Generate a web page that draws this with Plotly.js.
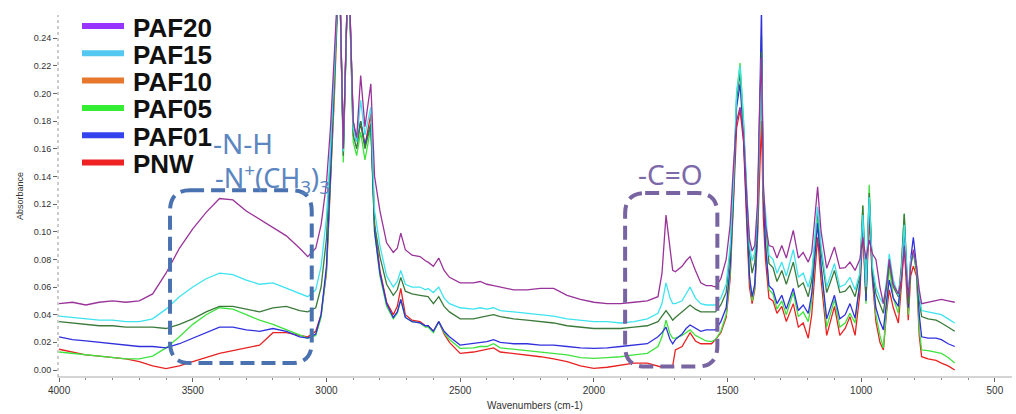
<!DOCTYPE html>
<html>
<head>
<meta charset="utf-8">
<script src="https://cdn.plot.ly/plotly-3.0.1.min.js"></script>
<style>html,body{margin:0;padding:0;background:#fff;}#chart{width:1016px;height:414px;}</style>
</head>
<body>
<div id="chart"></div>
<script>
// Wavenumbers (cm-1)
const wavenumbers = [4000,3950,3900,3850,3800,3750,3700,3650,3600,3550,3500,3450,3400,3350,3300,3250,3200,3150,3100,3070,3040,3020,3000,2985,2970,2952,2937,2918,2900,2887,2872,2856,2834,2820,2800,2775,2750,2735,2722,2705,2680,2650,2630,2620,2600,2580,2560,2540,2500,2450,2425,2400,2375,2350,2300,2250,2200,2150,2100,2050,2000,1950,1900,1850,1800,1760,1745,1730,1715,1705,1695,1670,1655,1640,1620,1600,1580,1560,1545,1525,1505,1490,1478,1466,1453,1440,1428,1418,1408,1398,1388,1380,1373,1366,1358,1345,1330,1315,1297,1280,1254,1235,1217,1198,1185,1163,1150,1129,1100,1080,1060,1042,1023,1005,994,982,970,958,945,930,917,905,895,880,861,850,839,824,815,805,793,783,774,750,720,700,675,650];

const paf20 = [0.048,0.049,0.047,0.049,0.050,0.049,0.050,0.055,0.070,0.088,0.102,0.114,0.124,0.123,0.115,0.109,0.103,0.097,0.088,0.082,0.088,0.105,0.135,0.175,0.230,0.300,0.160,0.300,0.180,0.168,0.213,0.176,0.207,0.140,0.115,0.092,0.085,0.088,0.099,0.087,0.083,0.082,0.079,0.078,0.075,0.081,0.072,0.067,0.063,0.063,0.064,0.062,0.061,0.060,0.058,0.058,0.059,0.059,0.054,0.051,0.049,0.048,0.048,0.049,0.050,0.053,0.070,0.112,0.085,0.072,0.071,0.075,0.079,0.082,0.072,0.063,0.061,0.061,0.060,0.066,0.080,0.105,0.147,0.180,0.190,0.170,0.125,0.095,0.086,0.090,0.120,0.190,0.226,0.135,0.105,0.090,0.089,0.081,0.090,0.081,0.101,0.081,0.085,0.078,0.085,0.1325,0.100,0.0735,0.089,0.0735,0.074,0.078,0.072,0.080,0.096,0.080,0.094,0.084,0.080,0.060,0.048,0.062,0.080,0.062,0.055,0.065,0.089,0.053,0.075,0.087,0.075,0.058,0.048,0.049,0.050,0.051,0.050,0.049];
const paf15 = [0.039,0.038,0.037,0.036,0.036,0.035,0.035,0.037,0.044,0.053,0.060,0.066,0.070,0.069,0.065,0.062,0.063,0.059,0.055,0.053,0.058,0.075,0.110,0.160,0.220,0.300,0.158,0.300,0.175,0.165,0.195,0.170,0.190,0.115,0.090,0.068,0.060,0.064,0.072,0.062,0.060,0.060,0.058,0.059,0.056,0.060,0.052,0.048,0.045,0.044,0.045,0.044,0.045,0.043,0.042,0.041,0.040,0.039,0.037,0.036,0.035,0.035,0.034,0.035,0.037,0.041,0.048,0.063,0.052,0.048,0.048,0.050,0.055,0.060,0.052,0.048,0.047,0.047,0.047,0.052,0.062,0.090,0.135,0.200,0.220,0.180,0.125,0.090,0.079,0.085,0.115,0.185,0.225,0.130,0.115,0.083,0.080,0.070,0.078,0.068,0.087,0.067,0.070,0.060,0.070,0.118,0.090,0.060,0.077,0.060,0.062,0.067,0.058,0.070,0.112,0.060,0.125,0.075,0.060,0.052,0.048,0.065,0.084,0.065,0.054,0.070,0.105,0.055,0.080,0.085,0.075,0.055,0.043,0.042,0.041,0.040,0.037,0.034];
const paf10 = [0.035,0.034,0.033,0.032,0.032,0.031,0.031,0.031,0.030,0.033,0.037,0.042,0.046,0.046,0.044,0.042,0.045,0.046,0.043,0.042,0.045,0.060,0.095,0.150,0.215,0.300,0.155,0.300,0.170,0.160,0.180,0.160,0.178,0.105,0.082,0.062,0.054,0.058,0.067,0.057,0.055,0.054,0.053,0.053,0.048,0.053,0.046,0.042,0.037,0.037,0.038,0.039,0.040,0.0386,0.037,0.036,0.035,0.034,0.032,0.031,0.030,0.030,0.030,0.031,0.032,0.035,0.039,0.043,0.039,0.036,0.038,0.042,0.045,0.047,0.044,0.042,0.042,0.042,0.042,0.047,0.056,0.085,0.130,0.195,0.215,0.175,0.120,0.085,0.070,0.078,0.110,0.185,0.230,0.128,0.110,0.077,0.074,0.064,0.072,0.062,0.078,0.060,0.063,0.053,0.065,0.116,0.085,0.056,0.072,0.056,0.057,0.061,0.053,0.068,0.119,0.055,0.128,0.072,0.055,0.048,0.041,0.060,0.078,0.060,0.053,0.075,0.113,0.048,0.078,0.085,0.072,0.050,0.0386,0.037,0.036,0.034,0.031,0.028];
const paf05 = [0.013,0.012,0.011,0.010,0.009,0.008,0.008,0.010,0.016,0.024,0.033,0.040,0.045,0.044,0.040,0.036,0.033,0.029,0.025,0.023,0.025,0.038,0.072,0.135,0.205,0.300,0.150,0.300,0.165,0.155,0.172,0.152,0.175,0.100,0.068,0.046,0.037,0.041,0.051,0.038,0.035,0.034,0.031,0.031,0.027,0.035,0.027,0.022,0.0157,0.016,0.017,0.017,0.019,0.016,0.015,0.014,0.013,0.012,0.011,0.009,0.0084,0.009,0.0096,0.011,0.012,0.017,0.024,0.036,0.026,0.023,0.023,0.025,0.027,0.029,0.025,0.023,0.021,0.0205,0.022,0.028,0.040,0.070,0.125,0.200,0.222,0.180,0.115,0.068,0.050,0.060,0.100,0.190,0.242,0.125,0.095,0.058,0.055,0.044,0.050,0.040,0.056,0.0386,0.042,0.035,0.050,0.112,0.075,0.031,0.051,0.031,0.034,0.041,0.034,0.065,0.119,0.048,0.134,0.070,0.040,0.025,0.016,0.045,0.075,0.052,0.041,0.070,0.113,0.040,0.075,0.085,0.070,0.030,0.0145,0.014,0.013,0.012,0.009,0.005];
const paf01 = [0.024,0.022,0.021,0.020,0.019,0.018,0.017,0.017,0.016,0.019,0.023,0.027,0.031,0.031,0.029,0.028,0.030,0.028,0.024,0.023,0.026,0.040,0.075,0.140,0.210,0.300,0.160,0.300,0.180,0.165,0.180,0.163,0.178,0.100,0.070,0.048,0.038,0.042,0.051,0.038,0.035,0.034,0.032,0.032,0.028,0.035,0.028,0.024,0.018,0.019,0.020,0.0205,0.022,0.020,0.019,0.019,0.018,0.018,0.017,0.016,0.0157,0.016,0.017,0.018,0.019,0.024,0.027,0.031,0.022,0.019,0.022,0.026,0.030,0.0325,0.030,0.028,0.029,0.029,0.029,0.035,0.045,0.075,0.125,0.190,0.207,0.168,0.110,0.068,0.053,0.062,0.100,0.190,0.262,0.125,0.090,0.061,0.058,0.048,0.054,0.044,0.059,0.043,0.047,0.041,0.055,0.106,0.075,0.037,0.054,0.037,0.040,0.048,0.0375,0.062,0.111,0.050,0.123,0.068,0.045,0.035,0.029,0.050,0.065,0.052,0.046,0.070,0.104,0.045,0.080,0.096,0.075,0.040,0.024,0.023,0.023,0.022,0.019,0.017];
const pnw = [0.015,0.013,0.011,0.010,0.009,0.008,0.006,0.003,0.001,0.003,0.006,0.009,0.012,0.014,0.016,0.018,0.027,0.027,0.025,0.024,0.028,0.040,0.070,0.130,0.200,0.300,0.158,0.300,0.178,0.165,0.178,0.162,0.185,0.105,0.072,0.049,0.040,0.046,0.059,0.040,0.036,0.035,0.032,0.032,0.028,0.035,0.026,0.020,0.012,0.013,0.014,0.0145,0.016,0.013,0.012,0.011,0.0096,0.008,0.006,0.003,0.0012,0.002,0.0036,0.005,0.005,0.003,0.002,0.002,0.002,0.003,0.0145,0.017,0.022,0.027,0.021,0.019,0.019,0.019,0.022,0.027,0.038,0.066,0.120,0.175,0.188,0.165,0.105,0.060,0.048,0.058,0.095,0.150,0.180,0.110,0.080,0.052,0.050,0.041,0.046,0.035,0.048,0.031,0.034,0.023,0.040,0.096,0.065,0.025,0.046,0.025,0.030,0.0386,0.025,0.055,0.100,0.050,0.110,0.065,0.035,0.020,0.0145,0.042,0.058,0.045,0.034,0.060,0.090,0.036,0.068,0.075,0.068,0.025,0.0096,0.008,0.007,0.005,0.003,0.000];

const seriesNames = ['PAF20','PAF15','PAF10','PAF05','PAF01','PNW'];
const legendColors = ['#9933ff','#55c8f2','#e8772e','#33ee33','#3344ee','#ee2222'];
const curveColors  = ['#993399','#3fe3ef','#3b7a3b','#3fe33f','#3030dd','#e82222'];
const seriesValues = [paf20, paf15, paf10, paf05, paf01, pnw];

const xTickLabels = [4000,3500,3000,2500,2000,1500,1000,500];

const traces = [];
[5,3,4,2,1,0].forEach(i => {
  traces.push({
    x: wavenumbers, y: seriesValues[i], type: 'scatter', mode: 'lines', name: seriesNames[i],
    line: {color: curveColors[i], width: 1.3}, showlegend: false, hoverinfo: 'skip'
  });
});

function roundedBox(L, R, T, B, rx, ry) {
  const s = Math.sign(L - R);
  const p = (x, y) => x + ',' + y;
  return 'M' + p(L - s*rx, T) + ' L' + p(R + s*rx, T) + ' Q' + p(R, T) + ' ' + p(R, T - ry) +
         ' L' + p(R, B + ry) + ' Q' + p(R, B) + ' ' + p(R + s*rx, B) +
         ' L' + p(L - s*rx, B) + ' Q' + p(L, B) + ' ' + p(L, B + ry) +
         ' L' + p(L, T - ry) + ' Q' + p(L, T) + ' ' + p(L - s*rx, T) + ' Z';
}

const M = {l: 58, r: 4, t: 15, b: 37};
const W = 1016, H = 414;
const pw = W - M.l - M.r, ph = H - M.t - M.b;
const px2x = px => (px - M.l) / pw;
const py2y = py => (H - M.b - py) / ph;

const shapes = [
  {type: 'line', xref: 'paper', yref: 'paper', x0: 0, x1: 1, y0: 0, y1: 0, line: {color: '#aaa', width: 1}},
  {type: 'line', xref: 'paper', yref: 'paper', x0: 0, x1: 0, y0: 0, y1: 1, line: {color: '#999', width: 1, dash: 'dot'}},
  {type: 'path', xref: 'x', yref: 'y', path: roundedBox(3585, 3055, 0.130, 0.005, 75, 0.015),
   line: {color: '#4a72b0', width: 4, dash: '14px,7px'}},
  {type: 'path', xref: 'x', yref: 'y', path: roundedBox(1883, 1538, 0.128, 0.0025, 75, 0.015),
   line: {color: '#7864a0', width: 4, dash: '14px,7px'}}
];
const annotations = [
  {x: 3312, y: 0.164, xref: 'x', yref: 'y', text: '-N-H', showarrow: false, xanchor: 'center', yanchor: 'middle',
   height: 30, font: {size: 28, color: '#5b86c0', family: 'Noto Sans, sans-serif'}},
  {x: 3203, y: 0.139, xref: 'x', yref: 'y', text: '-N<sup>+</sup>(CH<sub>3</sub>)<sub>3</sub>', showarrow: false, xanchor: 'center', yanchor: 'middle',
   height: 34, font: {size: 27, color: '#5b86c0', family: 'Noto Sans, sans-serif'}},
  {x: 1715, y: 0.142, xref: 'x', yref: 'y', text: '-C=O', showarrow: false, xanchor: 'center', yanchor: 'middle',
   font: {size: 28, color: '#7d68a8', family: 'Noto Sans, sans-serif'}}
];
seriesNames.forEach((n, i) => {
  const cy = 26 + i * 27.3;
  shapes.push({type: 'line', xref: 'paper', yref: 'paper', x0: px2x(82), x1: px2x(124), y0: py2y(cy), y1: py2y(cy),
               line: {color: legendColors[i], width: 6}});
  annotations.push({x: px2x(131), y: py2y(cy + 1), xref: 'paper', yref: 'paper', text: '<b>' + n + '</b>',
                    showarrow: false, xanchor: 'left', yanchor: 'middle', height: 27, valign: 'middle',
                    font: {size: 26, color: '#111', family: 'Liberation Sans, Arial, sans-serif'}});
});

const layout = {
  width: W, height: H,
  margin: M,
  paper_bgcolor: '#fff', plot_bgcolor: '#fff',
  font: {family: 'Liberation Sans, Arial, sans-serif', color: '#333'},
  showlegend: false,
  xaxis: {
    range: [4004, 436], tickvals: xTickLabels, ticktext: xTickLabels.map(String),
    showgrid: false, zeroline: false, showline: false,
    ticks: 'outside', ticklen: 4, tickcolor: '#666', tickfont: {size: 10, color: '#333'},
    minor: {dtick: 100, tick0: 0, ticks: 'outside', ticklen: 2, tickcolor: '#888', showgrid: false},
    title: {text: 'Wavenumbers (cm-1)', font: {size: 10, color: '#333'}, standoff: 6}
  },
  yaxis: {
    range: [-0.00506, 0.2567], dtick: 0.02, tick0: 0, tickformat: '.2f',
    showgrid: false, zeroline: false, showline: false,
    ticks: 'outside', ticklen: 4, tickcolor: '#666', tickfont: {size: 9, color: '#333'},
    title: {text: 'Absorbance', font: {size: 9, color: '#333'}, standoff: 8}
  },
  shapes: shapes,
  annotations: annotations
};

Plotly.newPlot('chart', traces, layout, {displayModeBar: false, staticPlot: true});
</script>
</body>
</html>
